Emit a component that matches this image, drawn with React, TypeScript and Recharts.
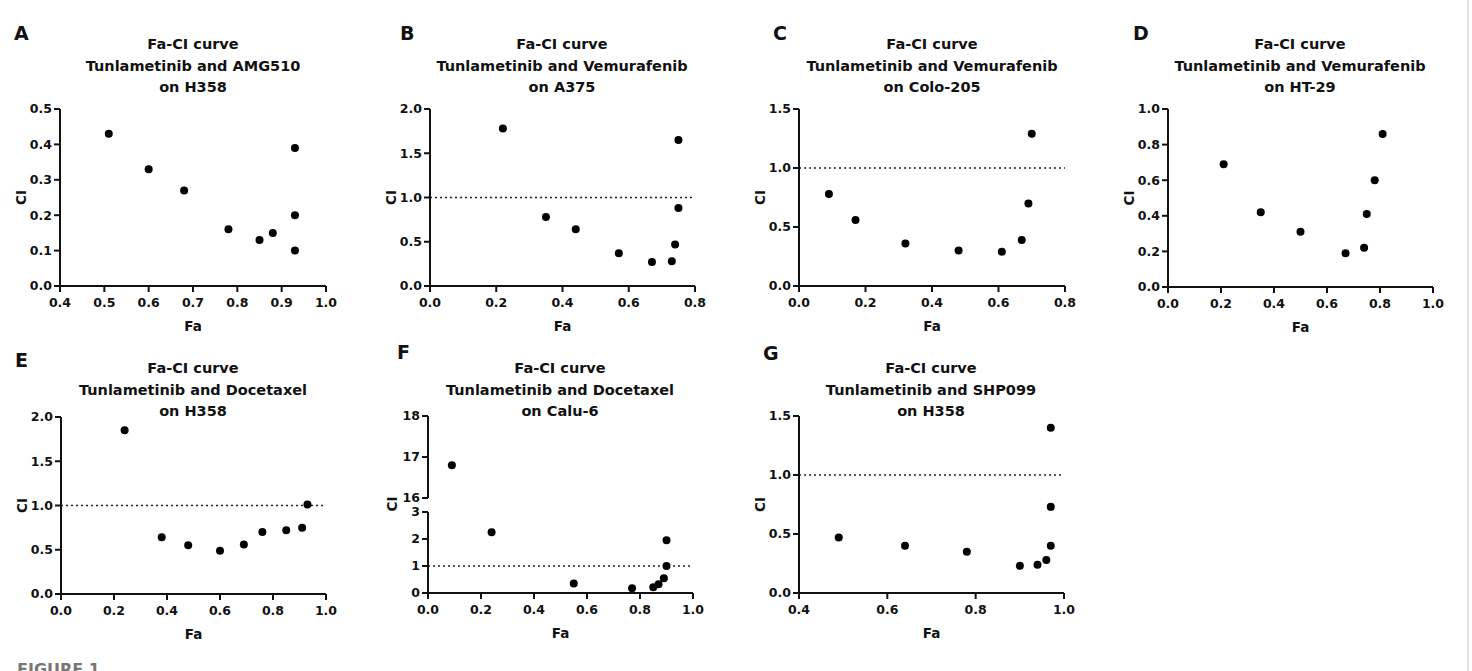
import React from "react";
import { ScatterChart, Scatter, XAxis, YAxis, ReferenceLine, Label } from "recharts";

const FONT = "'DejaVu Sans', 'Liberation Sans', Arial, sans-serif";
const INK = "#111";

// Fa / CI pairs per combination
const faA = [0.51, 0.6, 0.68, 0.78, 0.85, 0.88, 0.93, 0.93, 0.93];
const ciA = [0.43, 0.33, 0.27, 0.16, 0.13, 0.15, 0.39, 0.2, 0.1];

const faB = [0.22, 0.35, 0.44, 0.57, 0.67, 0.73, 0.74, 0.75, 0.75];
const ciB = [1.78, 0.78, 0.64, 0.37, 0.27, 0.28, 0.47, 0.88, 1.65];

const faC = [0.09, 0.17, 0.32, 0.48, 0.61, 0.67, 0.69, 0.7];
const ciC = [0.78, 0.56, 0.36, 0.3, 0.29, 0.39, 0.7, 1.29];

const faD = [0.21, 0.35, 0.5, 0.67, 0.74, 0.75, 0.78, 0.81];
const ciD = [0.69, 0.42, 0.31, 0.19, 0.22, 0.41, 0.6, 0.86];

const faE = [0.24, 0.38, 0.48, 0.6, 0.69, 0.76, 0.85, 0.91, 0.93];
const ciE = [1.85, 0.64, 0.55, 0.49, 0.56, 0.7, 0.72, 0.75, 1.01];

const faF = [0.09, 0.24, 0.55, 0.77, 0.85, 0.87, 0.89, 0.9, 0.9];
const ciF = [16.8, 2.25, 0.35, 0.18, 0.21, 0.32, 0.55, 1.0, 1.95];

const faG = [0.49, 0.64, 0.78, 0.9, 0.94, 0.96, 0.97, 0.97, 0.97];
const ciG = [0.47, 0.4, 0.35, 0.23, 0.24, 0.28, 0.4, 0.73, 1.4];

// axis ticks
const ticksFa04 = [0.4, 0.5, 0.6, 0.7, 0.8, 0.9, 1.0];
const ticksFa08 = [0, 0.2, 0.4, 0.6, 0.8];
const ticksFa10 = [0, 0.2, 0.4, 0.6, 0.8, 1.0];
const ticksFaG = [0.4, 0.6, 0.8, 1.0];
const ticksCi05 = [0, 0.1, 0.2, 0.3, 0.4, 0.5];
const ticksCi10 = [0, 0.2, 0.4, 0.6, 0.8, 1.0];
const ticksCi15 = [0, 0.5, 1.0, 1.5];
const ticksCi20 = [0, 0.5, 1.0, 1.5, 2.0];
const ticksCiLow = [0, 1, 2, 3];
const ticksCiHigh = [16, 17, 18];

type Pt = { fa: number; ci: number };
const toPts = (fa: number[], ci: number[]): Pt[] => fa.map((f, i) => ({ fa: f, ci: ci[i] }));

const fmt1 = (v: number) => v.toFixed(1);
const fmt0 = (v: number) => v.toFixed(0);

const tickStyle = { fontSize: 12.5, fontWeight: 700, fill: INK, fontFamily: FONT };
const axisLabelStyle = { fontSize: 13.5, fontWeight: 700, fill: INK, fontFamily: FONT };

const Dot = (p: any) => <circle cx={p.cx} cy={p.cy} r={4} fill="#000" />;

type PanelProps = {
  x0: number;
  y0: number;
  w: number;
  h: number;
  data: Pt[];
  xDomain: [number, number];
  xTicks: number[];
  yDomain: [number, number];
  yTicks: number[];
  yFmt?: (v: number) => string;
  ciLine?: boolean;
  hideX?: boolean;
  yLabel?: boolean;
};

function Panel({ x0, y0, w, h, data, xDomain, xTicks, yDomain, yTicks, yFmt = fmt1, ciLine, hideX, yLabel = true }: PanelProps) {
  const left = 60;
  const top = 10;
  const right = 15;
  const bottom = hideX ? 9 : 52;
  return (
    <div style={{ position: "absolute", left: x0 - left, top: y0 - top }}>
      <ScatterChart
        width={w + left + right}
        height={h + top + bottom}
        margin={{ top, right, bottom: hideX ? bottom : 0, left: 0 }}
      >
        <XAxis
          type="number"
          dataKey="fa"
          domain={xDomain}
          ticks={xTicks}
          interval={0}
          hide={hideX}
          height={hideX ? 0 : 52}
          tickFormatter={fmt1}
          axisLine={{ stroke: INK, strokeWidth: 2 }}
          tickLine={{ stroke: INK, strokeWidth: 2 }}
          tickSize={6}
          tickMargin={6}
          tick={tickStyle}
        >
          {!hideX && <Label value="Fa" position="insideBottom" offset={7} style={axisLabelStyle} />}
        </XAxis>
        <YAxis
          type="number"
          dataKey="ci"
          domain={yDomain}
          ticks={yTicks}
          interval={0}
          width={60}
          tickFormatter={yFmt}
          axisLine={{ stroke: INK, strokeWidth: 2 }}
          tickLine={{ stroke: INK, strokeWidth: 2 }}
          tickSize={6}
          tickMargin={2}
          tick={tickStyle}
        >
          {yLabel && (
            <Label
              value="CI"
              angle={-90}
              position="insideLeft"
              offset={21}
              style={{ ...axisLabelStyle, textAnchor: "middle" }}
            />
          )}
        </YAxis>
        {ciLine && <ReferenceLine y={1} stroke="#222" strokeWidth={1.5} strokeDasharray="2 3" />}
        <Scatter data={data} shape={Dot} isAnimationActive={false} />
      </ScatterChart>
    </div>
  );
}

const titles = [
  { letter: "A", lx: 14, ly: 40, cx: 193, by: 49, lines: ["Fa-CI curve", "Tunlametinib and AMG510", "on H358"] },
  { letter: "B", lx: 400, ly: 40, cx: 562, by: 49, lines: ["Fa-CI curve", "Tunlametinib and Vemurafenib", "on A375"] },
  { letter: "C", lx: 773, ly: 40, cx: 932, by: 49, lines: ["Fa-CI curve", "Tunlametinib and Vemurafenib", "on Colo-205"] },
  { letter: "D", lx: 1133, ly: 40, cx: 1300, by: 49, lines: ["Fa-CI curve", "Tunlametinib and Vemurafenib", "on HT-29"] },
  { letter: "E", lx: 15, ly: 367, cx: 193, by: 373, lines: ["Fa-CI curve", "Tunlametinib and Docetaxel", "on H358"] },
  { letter: "F", lx: 397, ly: 359, cx: 560, by: 373, lines: ["Fa-CI curve", "Tunlametinib and Docetaxel", "on Calu-6"] },
  { letter: "G", lx: 763, ly: 360, cx: 931, by: 373, lines: ["Fa-CI curve", "Tunlametinib and SHP099", "on H358"] },
];

export default function App() {
  const ptsF = toPts(faF, ciF);
  return (
    <div style={{ position: "absolute", left: 0, top: 0, width: 1472, height: 671, background: "#fff", overflow: "hidden" }}>
      <Panel x0={60} y0={109} w={266} h={177} data={toPts(faA, ciA)} xDomain={[0.4, 1.0]} xTicks={ticksFa04} yDomain={[0, 0.5]} yTicks={ticksCi05} />
      <Panel x0={430} y0={109} w={265} h={177} data={toPts(faB, ciB)} xDomain={[0, 0.8]} xTicks={ticksFa08} yDomain={[0, 2]} yTicks={ticksCi20} ciLine />
      <Panel x0={799} y0={109} w={266} h={177} data={toPts(faC, ciC)} xDomain={[0, 0.8]} xTicks={ticksFa08} yDomain={[0, 1.5]} yTicks={ticksCi15} ciLine />
      <Panel x0={1168} y0={109} w={265} h={178} data={toPts(faD, ciD)} xDomain={[0, 1]} xTicks={ticksFa10} yDomain={[0, 1]} yTicks={ticksCi10} />
      <Panel x0={61} y0={417} w={265} h={177} data={toPts(faE, ciE)} xDomain={[0, 1]} xTicks={ticksFa10} yDomain={[0, 2]} yTicks={ticksCi20} ciLine />
      {/* F: broken y axis, upper segment 16-18, lower segment 0-3 */}
      <Panel x0={428} y0={416} w={265} h={82} data={ptsF.filter((p) => p.ci >= 16)} xDomain={[0, 1]} xTicks={ticksFa10} yDomain={[16, 18]} yTicks={ticksCiHigh} yFmt={fmt0} hideX yLabel={false} />
      <Panel x0={428} y0={512} w={265} h={81} data={ptsF.filter((p) => p.ci <= 3)} xDomain={[0, 1]} xTicks={ticksFa10} yDomain={[0, 3]} yTicks={ticksCiLow} yFmt={fmt0} ciLine yLabel={false} />
      <Panel x0={799} y0={416} w={265} h={177} data={toPts(faG, ciG)} xDomain={[0.4, 1.0]} xTicks={ticksFaG} yDomain={[0, 1.5]} yTicks={ticksCi15} ciLine />

      <svg width={1472} height={671} style={{ position: "absolute", left: 0, top: 0, pointerEvents: "none" }}>
        {titles.map((t) => (
          <g key={t.letter} fontFamily={FONT} fontWeight={700} fill={INK}>
            <text x={t.lx} y={t.ly} fontSize={19}>{t.letter}</text>
            {t.lines.map((line, i) => (
              <text key={i} x={t.cx} y={t.by + i * 21.5} fontSize={14.5} textAnchor="middle">{line}</text>
            ))}
          </g>
        ))}
        <text
          x={0}
          y={0}
          transform="translate(392 504) rotate(-90)"
          textAnchor="middle"
          dy="0.36em"
          fontFamily={FONT}
          fontWeight={700}
          fontSize={13.5}
          fill={INK}
        >
          CI
        </text>
        <text x={17} y={675} fontFamily={FONT} fontWeight={700} fontSize={16} fill="#777">FIGURE 1</text>
        <line x1={1468} y1={0} x2={1468} y2={671} stroke="#c8c8c8" strokeWidth={1} />
      </svg>
    </div>
  );
}
